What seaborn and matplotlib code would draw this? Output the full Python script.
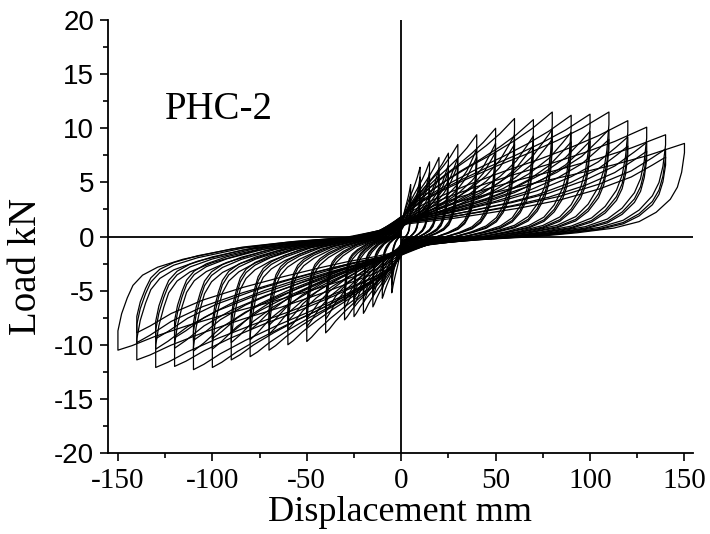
import matplotlib
matplotlib.use("Agg")
import matplotlib.pyplot as plt
from matplotlib.ticker import MultipleLocator
import numpy as np
import pandas as pd
import seaborn as sns

# loading levels (mm) and peak loads of the first cycle at each level (kN)
amplitudes = [5, 10, 15, 20, 25, 30, 40, 50, 60, 70, 80, 90, 100, 110, 120, 130, 140, 150]
peak_push = [4.8, 6.4, 6.9, 7.3, 7.7, 8.5, 9.4, 10.0, 10.9, 10.8, 11.5, 11.2, 11.3, 11.5, 10.7, 10.1, 9.4, 8.6]
peak_pull = [-5.2, -5.7, -6.5, -7.1, -7.4, -7.7, -8.9, -9.7, -10.0, -10.5, -11.1, -11.4,
             -12.1, -12.3, -12.0, -12.1, -11.4, -10.5]
cycles_per_level = [3, 3, 3, 3, 3, 3, 3, 3, 3, 3, 3, 3, 3, 3, 3, 3, 3, 1]
repeat_ratio = [1.0, 0.86, 0.78]

# loop branch shapes, as fractions of amplitude (u) and peak load (v)
load_u = [0.0, 0.05, 0.1, 0.2, 0.3, 0.45, 0.6, 0.75, 0.87, 0.95, 1.0]
push_load_first = [0.15, 0.22, 0.28, 0.37, 0.45, 0.56, 0.66, 0.77, 0.87, 0.95, 1.0]
push_load_repeat = [0.15, 0.17, 0.19, 0.23, 0.28, 0.36, 0.46, 0.6, 0.75, 0.9, 1.0]
pull_load_first = [0.15, 0.24, 0.3, 0.38, 0.46, 0.57, 0.67, 0.78, 0.88, 0.96, 1.0]
pull_load_repeat = [0.15, 0.18, 0.21, 0.26, 0.32, 0.42, 0.53, 0.66, 0.8, 0.93, 1.0]

push_unload_u = [1.0, 1.0, 0.99, 0.975, 0.95, 0.9, 0.84, 0.75, 0.62, 0.48, 0.3, 0.12, 0.0]
push_unload_v = [1.0, 0.9, 0.69, 0.53, 0.4, 0.26, 0.16, 0.09, 0.04, 0.0, -0.03, -0.07, -0.15]
pull_unload_u = [1.0, 1.0, 0.987, 0.967, 0.947, 0.913, 0.86, 0.77, 0.6, 0.4, 0.2, 0.08, 0.0]
pull_unload_v = [1.0, 0.83, 0.68, 0.54, 0.43, 0.34, 0.27, 0.2, 0.11, 0.05, 0.01, -0.05, -0.15]


def build_loops() -> pd.DataFrame:
    frames = []
    loop_id = 0
    for amp, p_push, p_pull, n_cyc in zip(amplitudes, peak_push, peak_pull, cycles_per_level):
        for k in range(n_cyc):
            r = repeat_ratio[k]
            push_v = push_load_first if k == 0 else push_load_repeat
            pull_v = pull_load_first if k == 0 else pull_load_repeat
            disp = np.concatenate([
                amp * np.array(load_u),
                amp * np.array(push_unload_u),
                -amp * np.array(load_u),
                -amp * np.array(pull_unload_u),
            ])
            load = np.concatenate([
                r * p_push * np.array(push_v),
                r * p_push * np.array(push_unload_v),
                r * p_pull * np.array(pull_v),
                r * p_pull * np.array(pull_unload_v),
            ])
            frames.append(pd.DataFrame({"disp": disp, "load": load, "loop": loop_id}))
            loop_id += 1
    return pd.concat(frames, ignore_index=True)


def main() -> None:
    sns.set_style("ticks")
    plt.rcParams.update({
        "axes.unicode_minus": False,
        "text.color": "black",
        "axes.labelcolor": "black",
        "xtick.color": "black",
        "ytick.color": "black",
    })
    serif = ["Liberation Serif", "DejaVu Serif"]
    sans = ["Liberation Sans", "DejaVu Sans"]

    df = build_loops()

    fig = plt.figure(figsize=(7.1, 5.34), dpi=100)
    ax = fig.add_axes([0.152, 0.1517, 0.824, 0.8108])

    ax.axhline(0, color="black", lw=1.3, zorder=1)
    ax.axvline(0, color="black", lw=1.3, zorder=1)
    sns.lineplot(data=df, x="disp", y="load", units="loop", estimator=None, sort=False,
                 color="black", lw=0.9, legend=False, ax=ax, zorder=2)

    ax.set_xlim(-155.3, 154.5)
    ax.set_ylim(-20, 20)
    ax.xaxis.set_major_locator(MultipleLocator(50))
    ax.xaxis.set_minor_locator(MultipleLocator(25))
    ax.yaxis.set_major_locator(MultipleLocator(5))
    ax.yaxis.set_minor_locator(MultipleLocator(2.5))
    sns.despine(ax=ax)
    for side in ("left", "bottom"):
        ax.spines[side].set_linewidth(1.3)
        ax.spines[side].set_color("black")
    ax.tick_params(which="major", direction="out", length=6, width=1.2, pad=4)
    ax.tick_params(axis="x", which="major", pad=5)
    ax.tick_params(which="minor", direction="out", length=3.5, width=1.2)

    for lab in ax.get_xticklabels():
        lab.set_fontfamily(serif)
        lab.set_fontsize(21)
    for lab in ax.get_yticklabels():
        lab.set_fontfamily(sans)
        lab.set_fontsize(20)

    ax.set_xlabel("Displacement mm", fontfamily=serif, fontsize=26, labelpad=1)
    ax.set_ylabel("Load kN", fontfamily=serif, fontsize=28)
    ax.yaxis.set_label_coords(-0.108, 0.43)
    ax.text(-125, 10.9, "PHC-2", fontfamily=serif, fontsize=28, va="baseline", ha="left")

    fig.savefig("out.png", dpi=100)
    plt.close(fig)


if __name__ == "__main__":
    main()
